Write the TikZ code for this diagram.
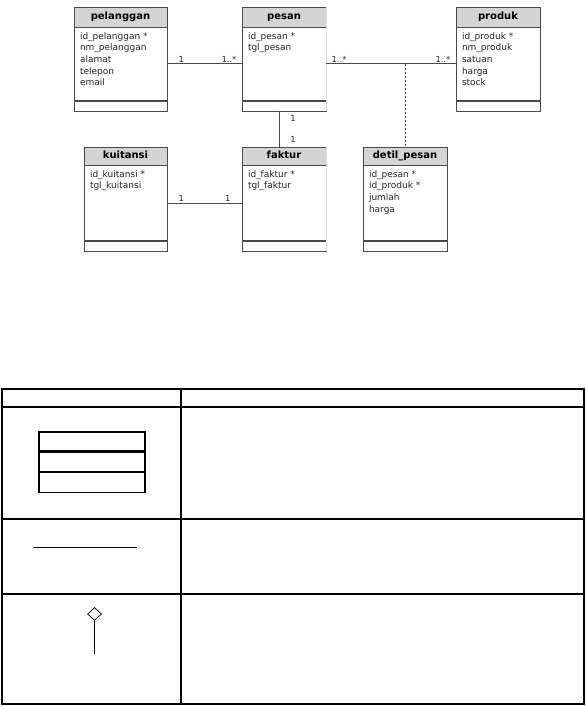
\documentclass[tikz,border=0pt]{standalone}
\usepackage{fontspec}
\setmainfont{DejaVu Sans}
\usepackage{xcolor}
\usetikzlibrary{positioning,shapes.geometric}
\definecolor{umlline}{HTML}{4A4A4A}
\definecolor{umlhead}{HTML}{D4D4D4}

\begin{document}
\begin{tikzpicture}[
  x=1pt, y=-1pt,
  node distance=0pt,
  classhead/.style={draw=umlline, fill=umlhead, minimum height=20pt, inner sep=0pt,
                    text height=7.6pt, text depth=2pt,
                    font=\fontsize{10}{11}\selectfont\bfseries},
  classattr/.style={draw=umlline, fill=white, minimum height=73pt, inner sep=0pt},
  classop/.style={draw=umlline, fill=white, minimum height=10pt, inner sep=0pt},
  attrtext/.style={anchor=north west, align=left, inner sep=0pt, text=black!85,
                   font=\fontsize{9}{11.6}\selectfont},
  assoc/.style={draw=umlline, line width=0.8pt},
  mult/.style={font=\fontsize{8.4}{10}\selectfont, inner sep=1pt, text=black!85},
  tabline/.style={line width=1.2pt},
]
\useasboundingbox (0,0) rectangle (586,706);

% Top row
\node[classhead, minimum width=93pt] (PEL) at (120.5,17) {pelanggan};
\node[classattr, minimum width=93pt, below=of PEL] (PELa) {};
\node[classop,   minimum width=93pt, below=of PELa] (PELo) {};
\node[attrtext] at ([xshift=6pt,yshift=-5pt]PELa.north west)
  {id\_pelanggan *\\nm\_pelanggan\\alamat\\telepon\\email};

\node[classhead, minimum width=84pt] (PES) at (284,17) {pesan};
\node[classattr, minimum width=84pt, below=of PES] (PESa) {};
\node[classop,   minimum width=84pt, below=of PESa] (PESo) {};
\node[attrtext] at ([xshift=6pt,yshift=-5pt]PESa.north west) {id\_pesan *\\tgl\_pesan};

\node[classhead, minimum width=84pt] (PRO) at (498,17) {produk};
\node[classattr, minimum width=84pt, below=of PRO] (PROa) {};
\node[classop,   minimum width=84pt, below=of PROa] (PROo) {};
\node[attrtext] at ([xshift=6pt,yshift=-5pt]PROa.north west)
  {id\_produk *\\nm\_produk\\satuan\\harga\\stock};

% Bottom row
\node[classhead, minimum width=83pt, minimum height=18pt] (KUI) at (125.5,156) {kuitansi};
\node[classattr, minimum width=83pt, minimum height=75pt, below=of KUI] (KUIa) {};
\node[classop,   minimum width=83pt, below=of KUIa] (KUIo) {};
\node[attrtext] at ([xshift=6pt,yshift=-5pt]KUIa.north west) {id\_kuitansi *\\tgl\_kuitansi};

\node[classhead, minimum width=84pt, minimum height=18pt] (FAK) at (284,156) {faktur};
\node[classattr, minimum width=84pt, minimum height=75pt, below=of FAK] (FAKa) {};
\node[classop,   minimum width=84pt, below=of FAKa] (FAKo) {};
\node[attrtext] at ([xshift=6pt,yshift=-5pt]FAKa.north west) {id\_faktur *\\tgl\_faktur};

\node[classhead, minimum width=84pt, minimum height=18pt] (DET) at (405,156) {detil\_pesan};
\node[classattr, minimum width=84pt, minimum height=75pt, below=of DET] (DETa) {};
\node[classop,   minimum width=84pt, below=of DETa] (DETo) {};
\node[attrtext] at ([xshift=6pt,yshift=-5pt]DETa.north west)
  {id\_pesan *\\id\_produk *\\jumlah\\harga};

% pesan and faktur have no visible right border
\draw[white!88!black, line width=1pt] (PES.north east) -- (PESo.south east);
\draw[white!88!black, line width=1pt] (FAK.north east) -- (FAKo.south east);

% --- associations ---
\draw[assoc] (PELa.east) --
  node[mult, pos=0, anchor=south west, xshift=10pt] {1}
  node[mult, pos=1, anchor=south east, xshift=-4pt] {1..*} (PESa.west);
\draw[assoc] (PESa.east) --
  node[mult, pos=0, anchor=south west, xshift=4pt] {1..*}
  node[mult, pos=1, anchor=south east, xshift=-4pt] {1..*} (PROa.west);
\coordinate (J) at (DET.north |- PESa.east);
\draw[assoc, dash pattern=on 2.5pt off 1.5pt] (J) -- (DET.north);
\draw[assoc] ([xshift=-5pt]PESo.south) --
  node[mult, pos=0, anchor=north west, xshift=10pt, yshift=-3pt] {1}
  node[mult, pos=1, anchor=south west, xshift=10pt, yshift=3pt] {1} ([xshift=-5pt]FAK.north);
\draw[assoc] (KUIa.east) --
  node[mult, pos=0, anchor=south west, xshift=10pt] {1}
  node[mult, pos=1, anchor=south east, xshift=-10pt] {1} (FAKa.west);

% --- legend table ---
\draw[tabline] (2,389) rectangle (584,704);
\foreach \y in {407,519,594} \draw[tabline] (2,\y) -- (584,\y);
\draw[tabline] (181,389) -- (181,704);

% class symbol
\node[draw, tabline, minimum width=106pt, minimum height=19pt, inner sep=0pt] (ICa) at (92,441.5) {};
\node[draw, tabline, minimum width=106pt, minimum height=19pt, inner sep=0pt, below=of ICa] (ICb) {};
\node[draw, tabline, minimum width=106pt, minimum height=20pt, inner sep=0pt, below=of ICb] (ICc) {};

% association symbol
\coordinate (ASa) at (33,547);
\coordinate (ASb) at (137,547);
\draw[line width=1pt] (ASa) -- (ASb);

% aggregation symbol
\node[diamond, draw, line width=0.7pt, minimum width=14pt, minimum height=13pt, inner sep=0pt] (DIA) at (94.5,614) {};
\coordinate (DIAe) at (94.5,654);
\draw[line width=0.7pt] (DIA.south) -- (DIAe);

\end{tikzpicture}
\end{document}
